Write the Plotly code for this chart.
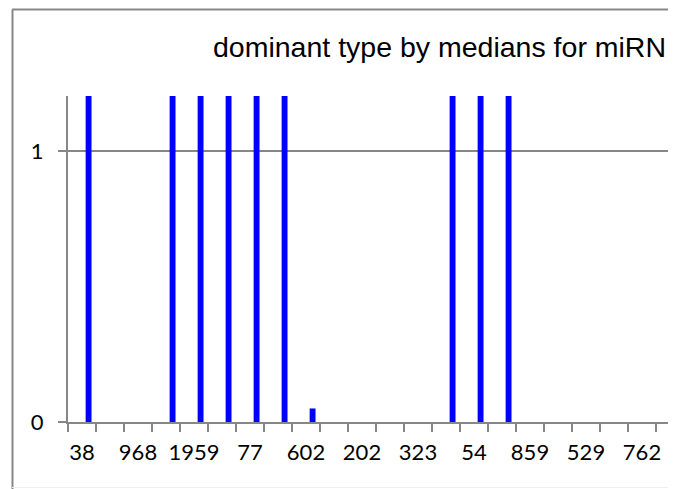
import plotly.graph_objects as go

# category labels (only every other one is shown on the axis)
categories = ["38", "", "968", "", "1959", "", "77", "", "602", "", "202", "",
              "323", "", "54", "", "859", "", "529", "", "762", ""]
values = [2, 0, 0, 2, 2, 2, 2, 2, 0.05, 0, 0, 0,
          0, 2, 2, 2, 0, 0, 0, 0, 0, 0]

OFF = 8                      # page body margin
W, H = 668 - OFF, 489 - OFF
L, R, T, B = 68 - OFF, 0, 96 - OFF, 67
GRAY = "#878787"

# page pixel -> paper coords
def px_x(p):
    return (p - 68) / (W - L - R)

def px_y(p):
    return (422 - p) / (H - T - B)

idx = list(range(len(categories)))

fig = go.Figure()
fig.add_trace(go.Bar(
    x=idx, y=values,
    width=0.21, offset=0.13,
    marker=dict(color="#0000ff", line=dict(width=0)),
    hoverinfo="skip",
))

fig.update_layout(
    width=W, height=H,
    margin=dict(l=L, r=R, t=T, b=B),
    paper_bgcolor="white", plot_bgcolor="white",
    showlegend=False,
    title=dict(text="dominant type by medians for miRN",
               x=(213 - OFF) / W, xanchor="left", xref="container",
               y=1 - (47 - OFF) / H, yanchor="middle", yref="container",
               font=dict(family="Liberation Sans, Arial", size=28.5, color="black")),
    font=dict(family="Lato, Calibri", size=22, color="black"),
)

fig.update_xaxes(
    range=[-0.5, -0.5 + (W - L - R) / 28],
    tickvals=[i for i, c in enumerate(categories) if c],
    ticktext=[c for c in categories if c],
    ticks="", showgrid=False, zeroline=False,
    showline=True, linecolor=GRAY, linewidth=2,
    ticklabelstandoff=10,
    minor=dict(ticks="outside", ticklen=8, tickwidth=2, tickcolor=GRAY,
               tick0=-0.5, dtick=1, showgrid=False),
)
fig.update_yaxes(
    range=[0, 1.204], tickvals=[0, 1],
    ticks="outside", ticklen=8, tickwidth=2, tickcolor=GRAY,
    showgrid=True, gridcolor=GRAY, gridwidth=2, zeroline=False,
    showline=True, linecolor=GRAY, linewidth=2,
    ticklabelstandoff=10,
)

# outer chart border (left and top visible in the crop)
fig.add_shape(type="line", xref="paper", yref="paper",
              x0=px_x(12.5), x1=px_x(12.5), y0=px_y(9.5), y1=px_y(489),
              line=dict(color=GRAY, width=2))
fig.add_shape(type="line", xref="paper", yref="paper",
              x0=px_x(12), x1=px_x(700), y0=px_y(9.5), y1=px_y(9.5),
              line=dict(color=GRAY, width=2))
fig.add_shape(type="line", xref="paper", yref="paper",
              x0=px_x(12), x1=px_x(700), y0=px_y(487.5), y1=px_y(487.5),
              line=dict(color="#eeeeee", width=1))

fig.write_html("out.html")
